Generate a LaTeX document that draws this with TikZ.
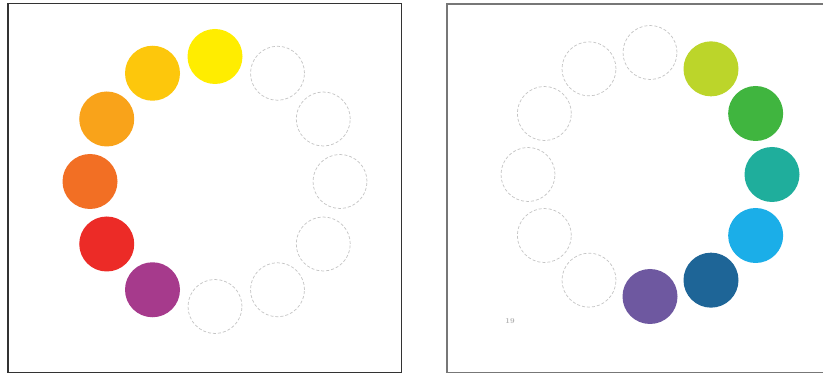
\documentclass[tikz,border=0pt]{standalone}
\usepackage{tikz}
\definecolor{cYel}{HTML}{FFED00}
\definecolor{cYelOr}{HTML}{FDC70C}
\definecolor{cOr}{HTML}{F9A31A}
\definecolor{cOrRed}{HTML}{F26F24}
\definecolor{cRed}{HTML}{EC2B27}
\definecolor{cPur}{HTML}{A63A8C}
\definecolor{cYelGr}{HTML}{BCD52A}
\definecolor{cGr}{HTML}{40B53F}
\definecolor{cTeal}{HTML}{1FAE9C}
\definecolor{cBlue}{HTML}{1BAEE8}
\definecolor{cDkBlue}{HTML}{1E6597}
\definecolor{cViol}{HTML}{6E58A0}
\definecolor{frameL}{HTML}{333333}
\definecolor{frameR}{HTML}{777777}
\definecolor{dashgray}{HTML}{C4C4C4}
\tikzset{
  dot/.style={circle, minimum size=55pt, inner sep=0pt, draw=none, fill=#1},
  emptydot/.style={circle, minimum size=54pt, inner sep=0pt, draw=dashgray, dash pattern=on 3pt off 2pt, line width=0.7pt},
  panelL/.style={draw=frameL, line width=1.4pt},
  panelR/.style={draw=frameR, line width=1.4pt},
  pagenum/.style={font=\fontsize{7.5}{8}\selectfont\bfseries, text=gray!60, inner sep=0pt}
}
\begin{document}
\begin{tikzpicture}[x=1pt,y=-1pt]
\useasboundingbox (0,0) rectangle (823,374);
\fill[white] (0,0) rectangle (823,374);
% panels
\draw[panelL] (8,3.5) rectangle (401.5,372.5);
\draw[panelR] (824,4) -- (447,4) -- (447,372.5) -- (824,372.5);
% left wheel: centre (215,181.5), R=125 ; (-a:R) = visual angle a
\begin{scope}[shift={(215,181.5)}]
\node[dot=cYel]    (l90)  at (-90:125)  {};
\node[dot=cYelOr]  (l120) at (-120:125) {};
\node[dot=cOr]     (l150) at (-150:125) {};
\node[dot=cOrRed]  (l180) at (-180:125) {};
\node[dot=cRed]    (l210) at (-210:125) {};
\node[dot=cPur]    (l240) at (-240:125) {};
\node[emptydot]    (l270) at (-270:125) {};
\node[emptydot]    (l300) at (-300:125) {};
\node[emptydot]    (l330) at (-330:125) {};
\node[emptydot]    (l0)   at (0:125)    {};
\node[emptydot]    (l30)  at (-30:125)  {};
\node[emptydot]    (l60)  at (-60:125)  {};
\end{scope}
% right wheel: centre (650,174.5), R=122
\begin{scope}[shift={(650,174.5)}]
\node[emptydot]    (r90)  at (-90:122)  {};
\node[dot=cYelGr]  (r60)  at (-60:122)  {};
\node[dot=cGr]     (r30)  at (-30:122)  {};
\node[dot=cTeal]   (r0)   at (0:122)    {};
\node[dot=cBlue]   (r330) at (-330:122) {};
\node[dot=cDkBlue] (r300) at (-300:122) {};
\node[dot=cViol]   (r270) at (-270:122) {};
\node[emptydot]    (r240) at (-240:122) {};
\node[emptydot]    (r210) at (-210:122) {};
\node[emptydot]    (r180) at (-180:122) {};
\node[emptydot]    (r150) at (-150:122) {};
\node[emptydot]    (r120) at (-120:122) {};
\end{scope}
\node[pagenum] (pnum) at (510,321.5) {19};
\end{tikzpicture}
\end{document}
